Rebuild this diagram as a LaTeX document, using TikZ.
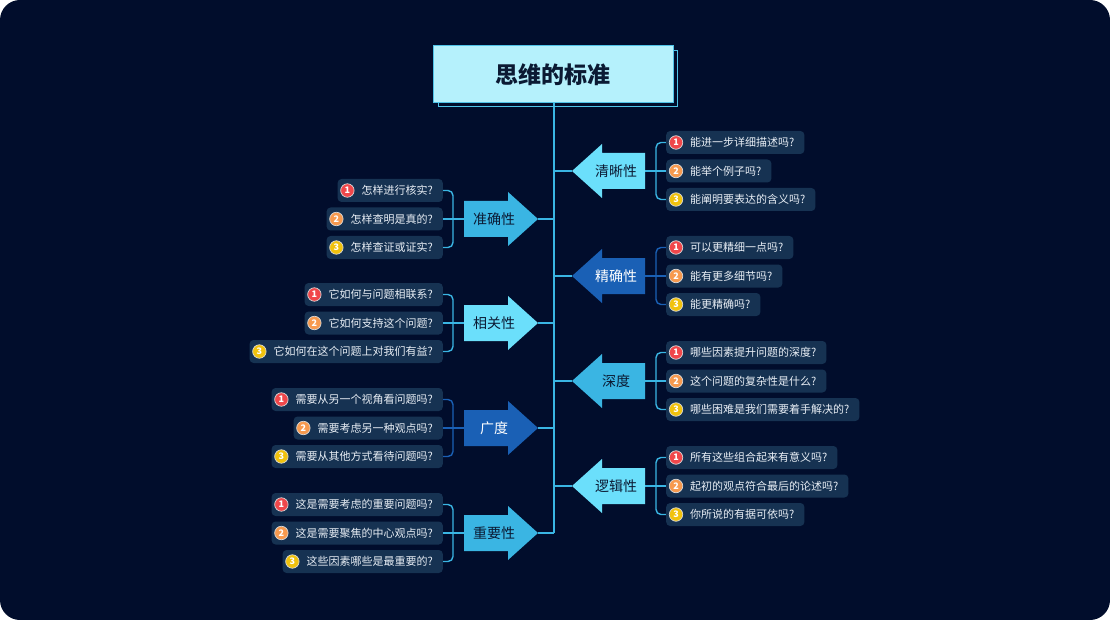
\documentclass[tikz,border=0pt]{standalone}
\usepackage{fontspec}
\setmainfont{Noto Sans CJK SC}
\definecolor{bgc}{HTML}{010D2C}
\definecolor{itemc}{HTML}{163252}
\definecolor{itemtext}{HTML}{E8EEF5}
\definecolor{trunkc}{HTML}{3AB5E3}
\definecolor{lightc}{HTML}{6BDFFB}
\definecolor{midc}{HTML}{3AB5E3}
\definecolor{darkc}{HTML}{1A60B5}
\definecolor{titlefill}{HTML}{B5F1FC}
\definecolor{titleline}{HTML}{4FC3E8}
\definecolor{labdark}{HTML}{0B1A33}
\definecolor{numa}{HTML}{F0474B}
\definecolor{numb}{HTML}{F79A4F}
\definecolor{numc}{HTML}{F1C20D}
\tikzset{
  item/.style={fill=itemc, rounded corners=4pt, text=itemtext,
    font=\fontsize{11}{13}\selectfont, minimum height=23pt, inner ysep=0pt, inner xsep=10pt},
  numdot/.style={circle, inner sep=0pt, minimum size=13.5pt, draw=white!85!black,
    line width=0.7pt, text=white, font=\fontsize{9}{9}\selectfont\bfseries},
  link/.style={draw=trunkc, line width=1.6pt},
  brk/.style={line width=1.4pt, rounded corners=5pt},
  alabel/.style={font=\fontsize{14}{16}\selectfont, inner sep=0pt},
}
% right-side group: arrow points left
\newcommand{\mmRight}[9]{%
  \begin{scope}[shift={(0,#2)}]
    \fill[#3] (572,0) -- (602,-27) -- (602,-18) -- (645,-18) -- (645,18) -- (602,18) -- (602,27) -- cycle;
    \coordinate (#1-tip) at (572,0);
    \coordinate (#1-end) at (645,0);
    \coordinate (#1-t) at (554,0);
    \node[alabel, text=#4] (#1) at (616,0) {#5};
    \node[item, anchor=west] (#1a) at (666,-28.5) {\hspace{14pt}#6};
    \node[item, anchor=west] (#1b) at (666,0) {\hspace{14pt}#7};
    \node[item, anchor=west] (#1c) at (666,28.5) {\hspace{14pt}#8};
  \end{scope}
  \begin{scope}[on background layer]
    \draw[link] (#1-t) -- (#1-tip);
    \draw[brk, draw=#9] (#1a.west) -- ++(-10,0) -- ([xshift=-10pt]#1c.west) -- (#1c.west);
    \draw[line width=1.4pt, draw=#9] (#1-end) -- (#1b.west);
  \end{scope}
  \node[numdot, fill=numa] (#1an) at ([xshift=10pt]#1a.west) {1};
  \node[numdot, fill=numb] (#1bn) at ([xshift=10pt]#1b.west) {2};
  \node[numdot, fill=numc] (#1cn) at ([xshift=10pt]#1c.west) {3};
}
% left-side group: arrow points right
\newcommand{\mmLeft}[9]{%
  \begin{scope}[shift={(0,#2)}]
    \fill[#3] (538,0) -- (508,-27) -- (508,-18) -- (464,-18) -- (464,18) -- (508,18) -- (508,27) -- cycle;
    \coordinate (#1-tip) at (538,0);
    \coordinate (#1-end) at (464,0);
    \coordinate (#1-t) at (554,0);
    \node[alabel, text=#4] (#1) at (494,0) {#5};
    \node[item, anchor=east] (#1a) at (443,-28.5) {\hspace{14pt}#6};
    \node[item, anchor=east] (#1b) at (443,0) {\hspace{14pt}#7};
    \node[item, anchor=east] (#1c) at (443,28.5) {\hspace{14pt}#8};
  \end{scope}
  \begin{scope}[on background layer]
    \draw[link] (#1-tip) -- (#1-t);
    \draw[brk, draw=#9] (#1a.east) -- ++(10,0) -- ([xshift=10pt]#1c.east) -- (#1c.east);
    \draw[line width=1.4pt, draw=#9] (#1-end) -- (#1b.east);
  \end{scope}
  \node[numdot, fill=numa] (#1an) at ([xshift=10pt]#1a.west) {1};
  \node[numdot, fill=numb] (#1bn) at ([xshift=10pt]#1b.west) {2};
  \node[numdot, fill=numc] (#1cn) at ([xshift=10pt]#1c.west) {3};
}
\usetikzlibrary{backgrounds}
\begin{document}
\begin{tikzpicture}[x=1pt,y=-1pt]
  \useasboundingbox (0,0) rectangle (1110,620);
  \begin{scope}[on background layer]
    \fill[white] (0,0) rectangle (1110,620);
    \fill[bgc, rounded corners=20pt] (0,0) rectangle (1110,620);
  \end{scope}
  % title
  \draw[titleline, line width=1pt] (438,51) rectangle (677,107);
  \node[fill=titlefill, draw=titleline, line width=1pt, minimum width=240pt, minimum height=57pt,
        font=\fontsize{23}{26}\selectfont\bfseries, text=labdark] (title) at (553,74.5) {思维的标准};
  \coordinate (trunkend) at (554,533);
  \begin{scope}[on background layer]
    \draw[link, line width=1.8pt] (title.south -| trunkend) -- (trunkend);
  \end{scope}
  \mmRight{qx}{171}{lightc}{labdark}{清晰性}{能进一步详细描述吗?}{能举个例子吗?}{能阐明要表达的含义吗?}{midc}
  \mmRight{jq}{276}{darkc}{white}{精确性}{可以更精细一点吗?}{能有更多细节吗?}{能更精确吗?}{darkc}
  \mmRight{sd}{381}{midc}{labdark}{深度}{哪些因素提升问题的深度?}{这个问题的复杂性是什么?}{哪些困难是我们需要着手解决的?}{midc}
  \mmRight{lj}{486}{lightc}{labdark}{逻辑性}{所有这些组合起来有意义吗?}{起初的观点符合最后的论述吗?}{你所说的有据可依吗?}{midc}
  \mmLeft{zq}{219}{midc}{labdark}{准确性}{怎样进行核实?}{怎样查明是真的?}{怎样查证或证实?}{midc}
  \mmLeft{xg}{323}{lightc}{labdark}{相关性}{它如何与问题相联系?}{它如何支持这个问题?}{它如何在这个问题上对我们有益?}{midc}
  \mmLeft{gd}{428}{darkc}{white}{广度}{需要从另一个视角看问题吗?}{需要考虑另一种观点吗?}{需要从其他方式看待问题吗?}{darkc}
  \mmLeft{zy}{533}{midc}{labdark}{重要性}{这是需要考虑的重要问题吗?}{这是需要聚焦的中心观点吗?}{这些因素哪些是最重要的?}{midc}
\end{tikzpicture}
\end{document}
